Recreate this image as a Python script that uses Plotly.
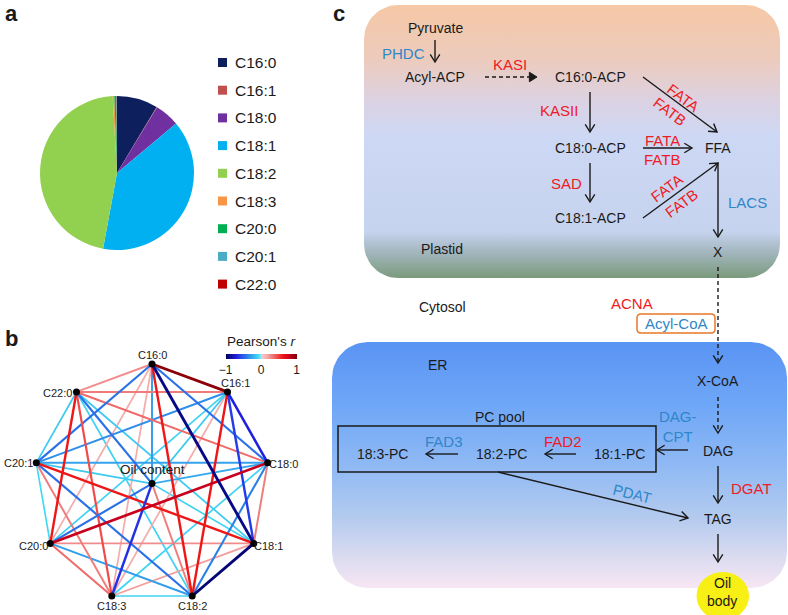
import math
import plotly.graph_objects as go

W, H = 788, 615
FONT = "Liberation Sans, Arial, Helvetica, sans-serif"
INK = "#1a1a1a"
RED = "#ee1c24"
BLUE = "#2f86c9"

# ---------------- panel a : fatty-acid composition (%) ----------------
acids = ["C16:0", "C16:1", "C18:0", "C18:1", "C18:2", "C18:3", "C20:0", "C20:1", "C22:0"]
composition = [8.6, 0.1, 5.2, 39.0, 46.2, 0.35, 0.4, 0.1, 0.05]
acid_colors = ["#0d1f5c", "#c0504d", "#7030a0", "#00b0f0", "#92d050",
               "#f79646", "#00b050", "#4bacc6", "#c00000"]

# ---------------- panel b : correlation network ----------------
net_nodes = acids + ["Oil content"]
edge_a = [0, 0, 0, 0, 0, 0, 0, 0, 0,
          1, 1, 1, 1, 1, 1, 1, 1,
          2, 2, 2, 2, 2, 2, 2,
          3, 3, 3, 3, 3, 3,
          4, 4, 4, 4, 4,
          5, 5, 5, 5,
          6, 6, 6,
          7, 7,
          8]
edge_b = [1, 2, 3, 4, 5, 6, 7, 8, 9,
          2, 3, 4, 5, 6, 7, 8, 9,
          3, 4, 5, 6, 7, 8, 9,
          4, 5, 6, 7, 8, 9,
          5, 6, 7, 8, 9,
          6, 7, 8, 9,
          7, 8, 9,
          8, 9,
          9]
pearson_r = [0.95, -0.45, -0.92, 0.60, 0.15, 0.15, -0.45, 0.25, -0.30,
             -0.70, -0.62, 0.60, 0.15, -0.12, -0.35, 0.30, -0.15,
             0.30, -0.40, -0.12, 0.80, -0.28, 0.35, -0.25,
             -0.95, 0.20, 0.25, 0.60, -0.15, -0.12,
             -0.12, -0.30, -0.45, -0.12, 0.30,
             0.35, 0.30, 0.45, -0.65,
             -0.10, 0.60, -0.45,
             -0.15, -0.15,
             -0.45]
r_ticks = [-1, 0, 1]
r_ticktext = ["\u22121", "0", "1"]

corr_scale = [[0.0, "#00005a"], [0.05, "#0a0a90"], [0.15, "#2020e0"], [0.22, "#2a50ee"],
              [0.30, "#2a80e6"], [0.37, "#38a8ee"], [0.45, "#40d8f2"], [0.499, "#80f0fa"],
              [0.501, "#fac8c8"], [0.58, "#f4aaaa"], [0.66, "#f07474"], [0.74, "#f04040"],
              [0.80, "#ee1616"], [0.90, "#c8001e"], [1.0, "#780000"]]


def hex2rgb(h):
    h = h.lstrip("#")
    return tuple(int(h[i:i + 2], 16) for i in (0, 2, 4))


def scale_color(scale, t):
    t = min(max(t, 0.0), 1.0)
    for (t0, c0), (t1, c1) in zip(scale[:-1], scale[1:]):
        if t0 <= t <= t1:
            f = 0 if t1 == t0 else (t - t0) / (t1 - t0)
            a, b = hex2rgb(c0), hex2rgb(c1)
            return "rgb(%d,%d,%d)" % tuple(round(a[i] + f * (b[i] - a[i])) for i in range(3))
    return scale[-1][1]


fig = go.Figure()
shapes = []
annots = []


def T(x, y, text, color=INK, size=14, angle=0, xanchor="center", yanchor="middle", bold=False):
    if bold:
        text = "<b>%s</b>" % text
    annots.append(dict(x=x, y=y, xref="x", yref="y", text=text, showarrow=False,
                       font=dict(family=FONT, size=size, color=color), textangle=angle,
                       xanchor=xanchor, yanchor=yanchor))


def rounded_path(x0, y0, x1, y1, r, n=14):
    xs, ys = [], []
    corners = [(x1 - r, y0 + r, -90), (x1 - r, y1 - r, 0), (x0 + r, y1 - r, 90), (x0 + r, y0 + r, 180)]
    for cx, cy, a0 in corners:
        for k in range(n + 1):
            a = math.radians(a0 + 90 * k / n)
            xs.append(cx + r * math.cos(a))
            ys.append(cy + r * math.sin(a))
    xs.append(xs[0])
    ys.append(ys[0])
    return xs, ys


def box_trace(x0, y0, x1, y1, r, stops):
    xs, ys = rounded_path(x0, y0, x1, y1, r)
    fig.add_trace(go.Scatter(x=xs, y=ys, mode="lines", line=dict(width=0), fill="toself",
                             fillgradient=dict(type="vertical", colorscale=stops, start=y0, stop=y1),
                             hoverinfo="skip", showlegend=False))


def arrow(x0, y0, x1, y1, dash="solid", filled=False, L=9.0, half=32):
    ang = math.atan2(y1 - y0, x1 - x0)
    h = math.radians(half)
    pl = (x1 - L * math.cos(ang - h), y1 - L * math.sin(ang - h))
    pr = (x1 - L * math.cos(ang + h), y1 - L * math.sin(ang + h))
    ex, ey = (x1 - L * 0.8 * math.cos(ang), y1 - L * 0.8 * math.sin(ang)) if filled else (x1, y1)
    shapes.append(dict(type="line", xref="x", yref="y", x0=x0, y0=y0, x1=ex, y1=ey,
                       line=dict(color=INK, width=1.4, dash=dash)))
    p = "M %.2f %.2f L %.2f %.2f L %.2f %.2f" % (pl[0], pl[1], x1, y1, pr[0], pr[1])
    if filled:
        shapes.append(dict(type="path", xref="x", yref="y", path=p + " Z", fillcolor=INK,
                           line=dict(color=INK, width=1)))
    else:
        shapes.append(dict(type="path", xref="x", yref="y", path=p,
                           line=dict(color=INK, width=1.4)))


# ---------------- panel c backgrounds ----------------
plastid_stops = [[0.0, "#f6c8a6"], [0.2, "#eccbbd"], [0.35, "#dcd2e2"], [0.48, "#cdd8f4"],
                 [0.83, "#c6d3ee"], [0.9, "#a5b8c2"], [1.0, "#7a9a7c"]]
er_stops = [[0.0, "#5a94f3"], [0.25, "#6ea6f7"], [0.5, "#8fb9f4"], [0.72, "#b5cbee"],
            [0.88, "#dcdcf0"], [1.0, "#f7e6f4"]]
box_trace(364, 5, 780, 278, 34, plastid_stops)
box_trace(332, 342, 787, 588, 36, er_stops)

# ---------------- panel a : pie ----------------
pcx, pcy, pr = 117, 173, 77
fig.add_trace(go.Pie(values=composition, labels=acids, sort=False, direction="clockwise",
                     rotation=0, textinfo="none", showlegend=False,
                     marker=dict(colors=acid_colors, line=dict(width=0)),
                     domain=dict(x=[(pcx - pr) / W, (pcx + pr) / W],
                                 y=[(H - pcy - pr) / H, (H - pcy + pr) / H])))

# manual legend
leg_x, leg_y0, leg_dy = 222.5, 62.5, 27.7
fig.add_trace(go.Scatter(x=[leg_x] * len(acids), y=[leg_y0 + i * leg_dy for i in range(len(acids))],
                         mode="markers", marker=dict(symbol="square", size=9, color=acid_colors),
                         hoverinfo="skip", showlegend=False))
for i, a in enumerate(acids):
    T(leg_x + 10, leg_y0 + i * leg_dy, a, size=15.5, xanchor="left")

# ---------------- panel b : network ----------------
ncx, ncy, rx, ry = 152, 483.6, 117.5, 119.6
node_x = [ncx + rx * math.sin(math.radians(40 * k)) for k in range(9)] + [ncx]
node_y = [ncy - ry * math.cos(math.radians(40 * k)) for k in range(9)] + [ncy]

order = sorted(range(len(pearson_r)), key=lambda k: abs(pearson_r[k]))
for k in order:
    a, b, r = edge_a[k], edge_b[k], pearson_r[k]
    fig.add_trace(go.Scatter(x=[node_x[a], node_x[b]], y=[node_y[a], node_y[b]], mode="lines",
                             line=dict(color=scale_color(corr_scale, (r + 1) / 2), width=1.5 + 1.5 * abs(r)),
                             hovertext="%s - %s: r = %.2f" % (net_nodes[a], net_nodes[b], r),
                             hoverinfo="text", showlegend=False))
fig.add_trace(go.Scatter(x=node_x, y=node_y, mode="markers", marker=dict(size=7, color="black"),
                         text=net_nodes, hoverinfo="text", showlegend=False))
label_off = [(0, -9), (8, -9), (16, 1), (15, 3), (0, 10), (0, 10), (-17, 3), (-18, 0), (-19, 1), (0, -14)]
for i, nm in enumerate(net_nodes):
    dx, dy = label_off[i]
    T(node_x[i] + dx, node_y[i] + dy, nm, size=13.5 if i == 9 else 11)

# colour bar for Pearson's r
fig.add_trace(go.Scatter(x=[-50, -50], y=[-50, -50], mode="markers", hoverinfo="skip", showlegend=False,
                         marker=dict(color=[-1, 1], cmin=-1, cmax=1, colorscale=corr_scale, size=1,
                                     showscale=True,
                                     colorbar=dict(orientation="h", x=261 / W, xanchor="center",
                                                   y=(H - 356) / H, yanchor="middle",
                                                   len=71, lenmode="pixels", thickness=5,
                                                   thicknessmode="pixels", outlinewidth=0,
                                                   xpad=0, ypad=0, tickvals=r_ticks, ticktext=r_ticktext,
                                                   ticks="", tickfont=dict(family=FONT, size=12, color=INK),
                                                   title=dict(text="Pearson's <i>r</i>", side="top",
                                                              font=dict(family=FONT, size=13.5, color=INK))))))

# panel letters
T(3, 13, "a", size=22, bold=True, xanchor="left")
T(3, 338, "b", size=22, bold=True, xanchor="left")
T(331, 13, "c", size=22, bold=True, xanchor="left")

# ---------------- panel c : pathway ----------------
T(435, 28, "Pyruvate")
T(403, 53, "PHDC", BLUE, 15)
arrow(435, 40, 435, 62)
T(435, 77, "Acyl-ACP")
arrow(485, 77, 537, 77, dash="4px,3px", filled=True)
T(510, 64, "KASI", RED, 15)
T(590, 77, "C16:0-ACP")
arrow(590, 92, 590, 132)
T(559, 110, "KASII", RED, 15)
T(590, 148, "C18:0-ACP")
arrow(590, 163, 590, 202)
T(566, 183, "SAD", RED, 15)
T(590, 218, "C18:1-ACP")
T(718, 148, "FFA")
arrow(643, 77, 717, 132)
T(683, 97, "FATA", RED, 15, angle=37)
T(670, 111, "FATB", RED, 15, angle=37)
arrow(643, 148, 692, 148)
T(662, 140, "FATA", RED, 15)
T(662, 159, "FATB", RED, 15)
arrow(643, 218, 718, 163)
T(666, 188, "FATA", RED, 15, angle=-37)
T(681, 203, "FATB", RED, 15, angle=-37)
arrow(718, 163, 718, 237)
T(747, 202, "LACS", BLUE, 15)
T(718, 252, "X")
T(442, 249, "Plastid")
T(442, 307, "Cytosol")
T(632, 303, "ACNA", RED, 15)
shapes.append(dict(type="path", xref="x", yref="y",
                   path="M 641 314 L 711 314 Q 715 314 715 318 L 715 329 Q 715 333 711 333 "
                        "L 641 333 Q 637 333 637 329 L 637 318 Q 637 314 641 314 Z",
                   fillcolor="white", line=dict(color="#e8782a", width=1.5)))
T(676, 323.5, "Acyl-CoA", BLUE, 15)
arrow(718, 267, 718, 363, dash="4px,3px")
T(437, 365, "ER")
T(718, 381, "X-CoA")
arrow(718, 397, 718, 433, dash="4px,3px")
T(718, 451, "DAG")
T(678, 426, "DAG-<br>CPT", BLUE, 15)
arrow(688, 450, 657, 450)
shapes.append(dict(type="rect", xref="x", yref="y", x0=338, y0=426, x1=656, y1=472,
                   line=dict(color=INK, width=1.5), fillcolor="rgba(0,0,0,0)"))
T(500, 417, "PC pool")
T(619, 454, "18:1-PC")
T(563, 441, "FAD2", RED, 15)
arrow(576, 454, 545, 454)
T(501, 454, "18:2-PC")
T(444, 441, "FAD3", BLUE, 15)
arrow(458, 454, 426, 454)
T(382, 454, "18:3-PC")
arrow(498, 472, 688, 518)
T(632, 493, "PDAT", BLUE, 15, angle=14)
arrow(718, 466, 718, 503)
T(751, 488, "DGAT", RED, 15)
T(718, 519, "TAG")
arrow(718, 534, 718, 562)
shapes.append(dict(type="circle", xref="x", yref="y", x0=696.5, y0=572, x1=749, y1=620,
                   fillcolor="#f8ef14", line=dict(width=0)))
T(722, 583, "Oil")
T(722, 601, "body")

fig.update_layout(width=W, height=H, margin=dict(l=0, r=0, t=0, b=0, autoexpand=False),
                  paper_bgcolor="white", plot_bgcolor="white",
                  font=dict(family=FONT, color=INK),
                  xaxis=dict(range=[0, W], domain=[0, 1], visible=False, fixedrange=True),
                  yaxis=dict(range=[H, 0], domain=[0, 1], visible=False, fixedrange=True),
                  shapes=shapes, annotations=annots, showlegend=False)
fig.write_html("out.html", config={"displayModeBar": False},
               post_script="document.body.style.margin='0';document.body.style.overflow='hidden';")
